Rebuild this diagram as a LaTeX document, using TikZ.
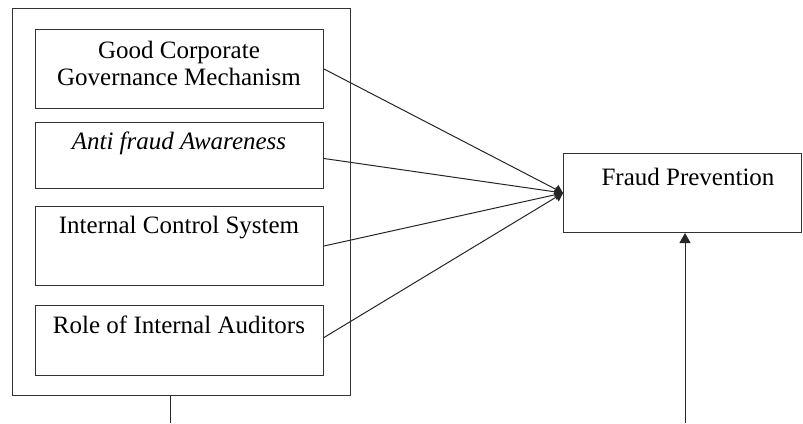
\documentclass[tikz,border=0pt]{standalone}
\usepackage{fontspec}
\setmainfont{Liberation Serif}
\newfontfamily\tnrfont{Liberation Serif}
\usetikzlibrary{arrows.meta,calc}
\begin{document}
\begin{tikzpicture}[x=1pt,y=-1pt,line width=1pt,
  box/.style={draw=black!80,rectangle},
  lbl/.style={font=\tnrfont\fontsize{25}{27}\selectfont,align=center,inner sep=0pt},
  conn/.style={draw=black!85,-{Triangle[length=8pt,width=10pt]}},
  upconn/.style={draw=black!85,-{Triangle[length=10pt,width=11pt]}}]
\useasboundingbox (0,0) rectangle (803,423);
\draw[box] (12,8) rectangle (350,395);
\coordinate (outerbot) at (170,395);
\coordinate (outerend) at (170,423);
\node[box,minimum width=288pt,minimum height=79pt,anchor=north west,inner sep=0pt] (b1) at (35,29) {};
\node[box,minimum width=288pt,minimum height=66pt,anchor=north west,inner sep=0pt] (b2) at (35,122) {};
\node[box,minimum width=288pt,minimum height=79pt,anchor=north west,inner sep=0pt] (b3) at (35,206) {};
\node[box,minimum width=288pt,minimum height=70pt,anchor=north west,inner sep=0pt] (b4) at (35,305) {};
\node[box,minimum width=238pt,minimum height=79pt,anchor=north west,inner sep=0pt] (fp) at (563,153) {};
\node[lbl] (t1) at (179,63) {Good Corporate\\Governance Mechanism};
\node[lbl] (t2) at (179,143) {\itshape Anti fraud Awareness};
\node[lbl] (t3) at (179,228) {Internal Control System};
\node[lbl] (t4) at (179,325) {Role of Internal Auditors};
\node[lbl] (t5) at (688,177) {Fraud Prevention};
\draw[conn] (b1.east) -- (fp.west);
\draw[conn] ($(b2.east)+(0,3)$) -- (fp.west);
\draw[conn] (b3.east) -- (fp.west);
\draw[conn] ($(b4.east)+(0,-3)$) -- (fp.west);
\draw[draw=black!85] (outerbot) -- (outerend);
\coordinate (fpin) at (685,423);
\draw[upconn] (fpin) -- (fpin |- fp.south);
\end{tikzpicture}
\end{document}
